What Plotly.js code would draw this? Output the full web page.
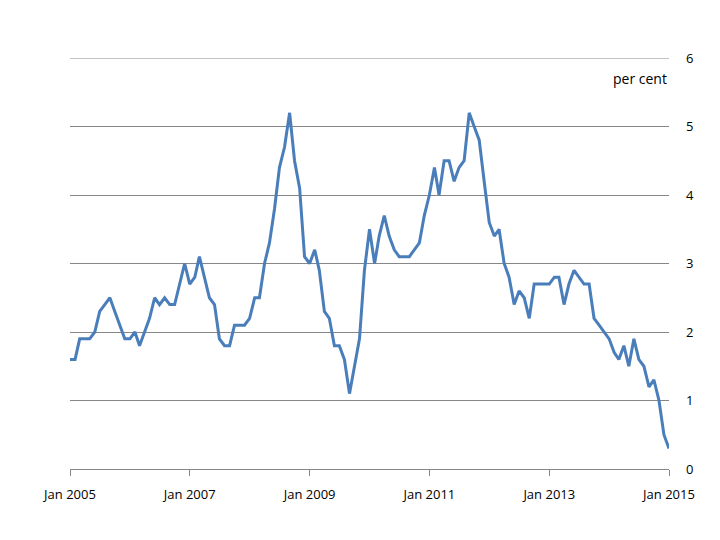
<!DOCTYPE html>
<html>
<head>
<meta charset="utf-8">
<script src="https://cdn.plot.ly/plotly-3.0.1.min.js"></script>
<style>html,body{margin:0;padding:0;background:#fff;}#chart{width:720px;height:540px;}</style>
</head>
<body>
<div id="chart"></div>
<script>
const startYear = 2005;
const cpiRate = [
  1.6,1.6,1.9,1.9,1.9,2.0,2.3,2.4,2.5,2.3,2.1,1.9,
  1.9,2.0,1.8,2.0,2.2,2.5,2.4,2.5,2.4,2.4,2.7,3.0,
  2.7,2.8,3.1,2.8,2.5,2.4,1.9,1.8,1.8,2.1,2.1,2.1,
  2.2,2.5,2.5,3.0,3.3,3.8,4.4,4.7,5.2,4.5,4.1,3.1,
  3.0,3.2,2.9,2.3,2.2,1.8,1.8,1.6,1.1,1.5,1.9,2.9,
  3.5,3.0,3.4,3.7,3.4,3.2,3.1,3.1,3.1,3.2,3.3,3.7,
  4.0,4.4,4.0,4.5,4.5,4.2,4.4,4.5,5.2,5.0,4.8,4.2,
  3.6,3.4,3.5,3.0,2.8,2.4,2.6,2.5,2.2,2.7,2.7,2.7,
  2.7,2.8,2.8,2.4,2.7,2.9,2.8,2.7,2.7,2.2,2.1,2.0,
  1.9,1.7,1.6,1.8,1.5,1.9,1.6,1.5,1.2,1.3,1.0,0.5,
  0.3
];
const months = cpiRate.map((v, i) => {
  const y = startYear + Math.floor(i / 12);
  const m = (i % 12) + 1;
  return y + '-' + String(m).padStart(2, '0') + '-01';
});
const yTicks = [0,1,2,3,4,5,6];
const yMax = 6;
const unitLabel = 'per cent';

const gridCol = '#878787';
const fontFam = 'Open Sans, Liberation Sans, sans-serif';

Plotly.newPlot('chart', [{
  x: months,
  y: cpiRate,
  type: 'scatter',
  mode: 'lines',
  line: {color: '#4a7ebb', width: 3},
  hoverinfo: 'skip'
}], {
  width: 720, height: 540,
  margin: {l: 70, r: 51, t: 58, b: 71},
  paper_bgcolor: '#ffffff',
  plot_bgcolor: '#ffffff',
  showlegend: false,
  font: {family: fontFam, size: 12, color: '#000'},
  xaxis: {
    type: 'date',
    range: ['2005-01-01', '2015-01-01'],
    tick0: '2005-01-01',
    dtick: 'M24',
    tickformat: '%b %Y',
    showgrid: false,
    zeroline: false,
    showline: true,
    linecolor: gridCol,
    linewidth: 1,
    ticks: 'outside',
    ticklen: 6,
    tickcolor: gridCol,
    tickfont: {family: fontFam, size: 13, color: '#000'},
    ticklabelstandoff: 7
  },
  yaxis: {
    side: 'right',
    range: [0, yMax],
    tickvals: yTicks,
    ticktext: yTicks.map(String),
    showgrid: true,
    gridcolor: gridCol,
    gridwidth: 1,
    zeroline: false,
    showline: false,
    ticks: '',
    tickfont: {family: fontFam, size: 13, color: '#000'},
    ticklabelstandoff: 16
  },
  shapes: [{
    type: 'line', xref: 'paper', yref: 'y',
    x0: 0, x1: 1, y0: yMax, y1: yMax,
    line: {color: gridCol, width: 1},
    layer: 'below'
  }],
  annotations: [{
    text: unitLabel,
    xref: 'paper', yref: 'y',
    x: 1, y: 5.7,
    xanchor: 'right', yanchor: 'middle',
    showarrow: false,
    font: {family: fontFam, size: 14, color: '#000'}
  }]
}, {displayModeBar: false, staticPlot: true});
</script>
</body>
</html>
